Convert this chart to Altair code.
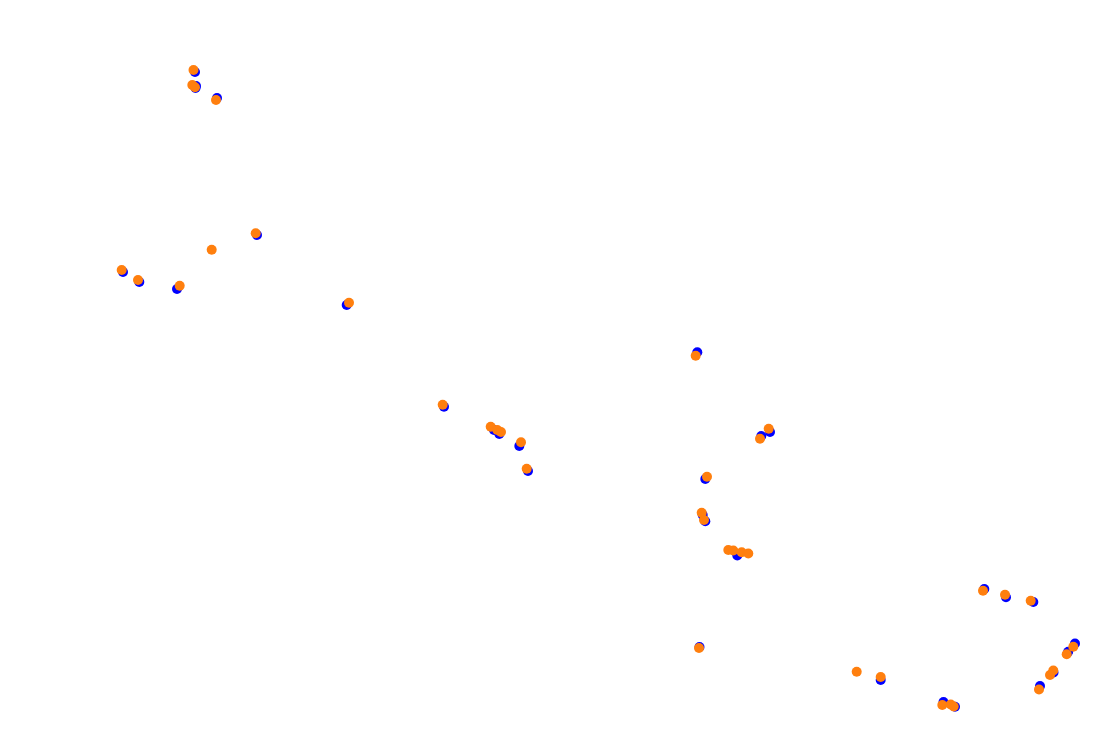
import altair as alt
import pandas as pd

# Series 1 (blue) positions
blue_x = [195, 196, 195.5, 217, 257, 123, 139.3, 177, 346.7, 444, 494, 499.3, 519.3, 528,
          697.3, 770, 761.3, 705.3, 702.7, 705.3, 737.3, 699.5, 984.3, 1006, 1033.3, 880.7,
          1075, 1068.2, 1053.5, 1040, 943.5, 955]
blue_y = [72, 86, 88, 98, 235, 272, 282, 289, 305, 406.7, 430, 434, 446, 471,
          352.3, 432, 436, 479, 515, 521.3, 555.5, 647, 589, 597.3, 602, 680,
          643.5, 651.7, 672.5, 686, 702, 706.7]

# Series 2 (orange) positions
orange_x = [193.5, 192.3, 195, 216, 255.7, 211.7, 121.7, 138, 179.7, 349, 442.7, 490.7, 497.3,
            501, 521, 526.7, 695.7, 768.7, 760, 707, 701.7, 704, 728.3, 733.3, 741.7, 748.3,
            699, 983, 1005, 1030.7, 856.7, 880.7, 1073.3, 1066.7, 1053.3, 1050, 1039, 942.3,
            950.7, 953.7]
orange_y = [70, 85, 87.3, 100, 233.3, 249.7, 270, 280, 285.7, 302.7, 404.7, 426.7, 430,
            432, 442.3, 468.7, 355.7, 428.7, 438.7, 476.7, 512.7, 520, 550, 550.5, 552.3, 553.5,
            648, 590.7, 594.7, 600.7, 671.7, 677, 646.7, 654.3, 670.5, 675, 689.5, 705,
            704.5, 706.5]

df = pd.concat([
    pd.DataFrame({"x": blue_x, "y": blue_y, "series": "A"}),
    pd.DataFrame({"x": orange_x, "y": orange_y, "series": "B"}),
], ignore_index=True)

xs = alt.Scale(domain=[8, 1104], nice=False, zero=False)
ys = alt.Scale(domain=[740, 8], nice=False, zero=False)

def layer(name, color):
    return alt.Chart(df[df.series == name]).mark_circle(
        size=100, opacity=1, color=color
    ).encode(
        x=alt.X("x:Q", scale=xs, axis=None),
        y=alt.Y("y:Q", scale=ys, axis=None),
    )

chart = alt.layer(layer("A", "#0000ff"), layer("B", "#ff7f0e")).properties(
    width=1096, height=732,
    autosize=alt.AutoSizeParams(type="fit", contains="padding"),
    padding=0,
).configure_view(stroke=None)

chart.save("out.html", embed_options={"renderer": "svg", "actions": False})
